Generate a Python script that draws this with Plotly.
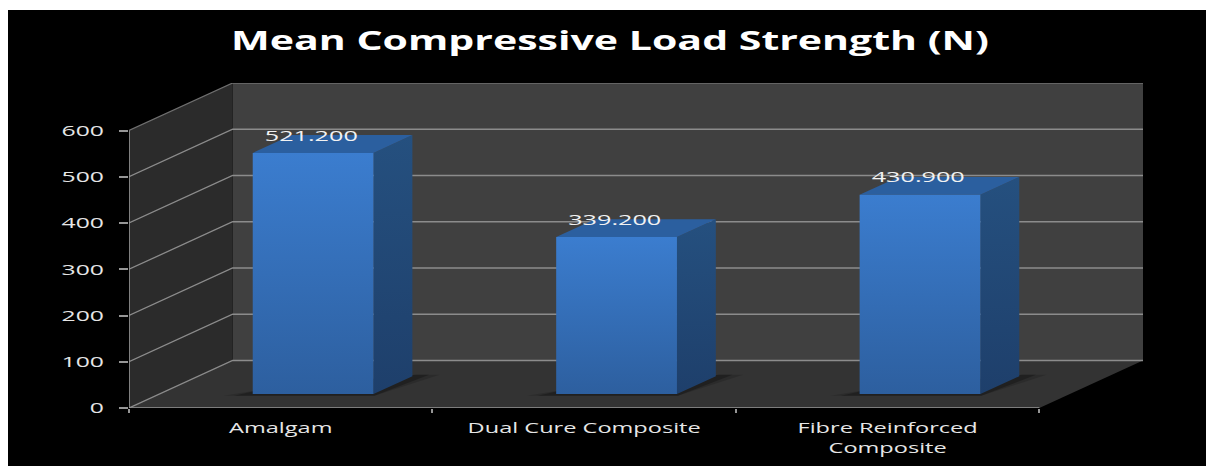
import plotly.graph_objects as go

# ---- data ----
categories = ["Amalgam", "Dual Cure Composite", "Fibre Reinforced<br>Composite"]
values = [521.2, 339.2, 430.9]
y_ticks = [0, 100, 200, 300, 400, 500, 600]
title = "Mean Compressive Load Strength (N)"

# ---- 3D projection parameters (oblique offset of the full chart depth, in axis units) ----
DX = 0.3416
DY = 102.7
BAR_W = 0.398
D0, D1 = 0.295, 0.67
SHIFT = 0.006
N = len(categories)
YMAX = y_ticks[-1]

W, H = 1206, 466


def p(x, v, d):
    return x + d * DX, v + d * DY


def poly(points, color=None, grad=None):
    xs = [q[0] for q in points] + [points[0][0]]
    ys = [q[1] for q in points] + [points[0][1]]
    kw = dict(x=xs, y=ys, mode="lines", fill="toself", line=dict(width=0),
              hoverinfo="skip", showlegend=False)
    if grad:
        kw["fillgradient"] = dict(type=grad[0], colorscale=[[0, grad[1]], [1, grad[2]]])
    else:
        kw["fillcolor"] = color
    return go.Scatter(**kw)


def line(points, color, width=1.4):
    return go.Scatter(x=[q[0] for q in points], y=[q[1] for q in points], mode="lines",
                      line=dict(color=color, width=width), hoverinfo="skip", showlegend=False)


fig = go.Figure()

# walls and floor
fig.add_trace(poly([p(0, 0, 1), p(N, 0, 1), p(N, YMAX, 1), p(0, YMAX, 1)], "#404040"))
fig.add_trace(poly([p(0, 0, 0), p(0, 0, 1), p(0, YMAX, 1), p(0, YMAX, 0)], "#2b2b2b"))
fig.add_trace(poly([p(0, 0, 0), p(N, 0, 0), p(N, 0, 1), p(0, 0, 1)], "#333333"))

# gridlines
for t in y_ticks:
    fig.add_trace(line([p(0, t, 0), p(0, t, 1), p(N, t, 1)], "#8c8c8c" if t != YMAX else "#707070", 1.3))

# front axis lines
fig.add_trace(line([p(0, YMAX, 0), p(0, 0, 0), p(N, 0, 0)], "#969696", 1.6))

# bars
for i, v in enumerate(values):
    c = i + 0.5 + SHIFT
    x0, x1 = c - BAR_W / 2, c + BAR_W / 2
    # soft floor shadow
    for a, e in ((0.15, 0.07), (0.25, 0.035)):
        fig.add_trace(poly([p(x0 - e - 0.02, -2, D0 - 0.02), p(x1 + 0.01, -2, D0 - 0.02),
                            p(x1 + e + 0.01, 0, D1 + 0.03), p(x1, 0, D1 + 0.03),
                            p(x0, 0, D0 + 0.1)], f"rgba(0,0,0,{a})"))
    fig.add_trace(poly([p(x1, 0, D0), p(x1, 0, D1), p(x1, v, D1), p(x1, v, D0)],
                       grad=("vertical", "#1e3f6b", "#25507f")))
    fig.add_trace(poly([p(x0, v, D0), p(x1, v, D0), p(x1, v, D1), p(x0, v, D1)], "#2b5f9f"))
    fig.add_trace(poly([p(x0, 0, D0), p(x1, 0, D0), p(x1, v, D0), p(x0, v, D0)],
                       grad=("vertical", "#2d5f9f", "#3b7dcf")))

# value labels
fig.add_trace(go.Scatter(
    x=[p(i + 0.5, v, D0)[0] for i, v in enumerate(values)],
    y=[p(i + 0.5, v, D0)[1] + 16 / 0.4625 for i, v in enumerate(values)],
    text=[f"{v:.3f}" for v in values], mode="text", textposition="middle center",
    textfont=dict(family="Open Sans", size=15, color="#f2f2f2"),
    hoverinfo="skip", showlegend=False, cliponaxis=False))

# carrier for the secondary x axis (category tick marks)
fig.add_trace(go.Scatter(x=[0], y=[0], xaxis="x2", mode="markers", marker=dict(opacity=0),
                         hoverinfo="skip", showlegend=False))

dom_x = [129 / W, 1143 / W]
dom_y = [1 - 408 / H, 1 - 83 / H]
xr = [0, N + DX]
yr = [0, YMAX + DY]
tf = dict(family="Open Sans", size=15, color="#e6e6e6")

fig.update_layout(
    width=W, height=H, margin=dict(l=0, r=0, t=0, b=0),
    paper_bgcolor="white", plot_bgcolor="rgba(0,0,0,0)", showlegend=False,
    title=dict(text=f"<b>{title}</b>", x=610 / W, y=1 - 41 / H, xanchor="center", yanchor="middle",
               font=dict(family="Open Sans", size=27, color="white")),
    shapes=[dict(type="rect", xref="paper", yref="paper", layer="below",
                 x0=8 / W, x1=1.01, y0=-0.01, y1=1 - 10 / H,
                 fillcolor="black", line=dict(width=0))],
    xaxis=dict(domain=dom_x, range=xr, tickmode="array", automargin=False,
               tickvals=[i + 0.5 for i in range(N)], ticktext=categories,
               ticks="", showgrid=False, zeroline=False, showline=False,
               tickfont=tf, ticklabelstandoff=9, tickangle=0),
    xaxis2=dict(domain=dom_x, range=xr, overlaying="x", anchor="y", side="bottom", automargin=False,
                tickmode="array", tickvals=list(range(N + 1)), showticklabels=False,
                ticks="outside", ticklen=4, tickcolor="#969696", tickwidth=1.5,
                showgrid=False, zeroline=False, showline=False),
    yaxis=dict(domain=dom_y, range=yr, tickmode="array", tickvals=y_ticks, automargin=False,
               ticks="outside", ticklen=9, tickcolor="#969696", tickwidth=1.5,
               showgrid=False, zeroline=False, showline=False,
               tickfont=tf, ticklabelstandoff=12),
)

# The source picture is horizontally stretched: widen the glyphs to match.
post = """
document.body.style.margin='0';
function widen(sel,k){document.querySelectorAll(sel).forEach(function(t){
  var ts=t.querySelectorAll('tspan.line');
  var list=ts.length?ts:[t];
  list.forEach(function(n){
    n.setAttribute('textLength',n.getComputedTextLength()*k);
    n.setAttribute('lengthAdjust','spacingAndGlyphs');});});}
widen('.gtitle',1.52);widen('.xtick text',1.57);widen('.ytick text',1.65);widen('.textpoint text',1.68);
"""
fig.write_html("out.html", post_script=post, config=dict(displayModeBar=False))
